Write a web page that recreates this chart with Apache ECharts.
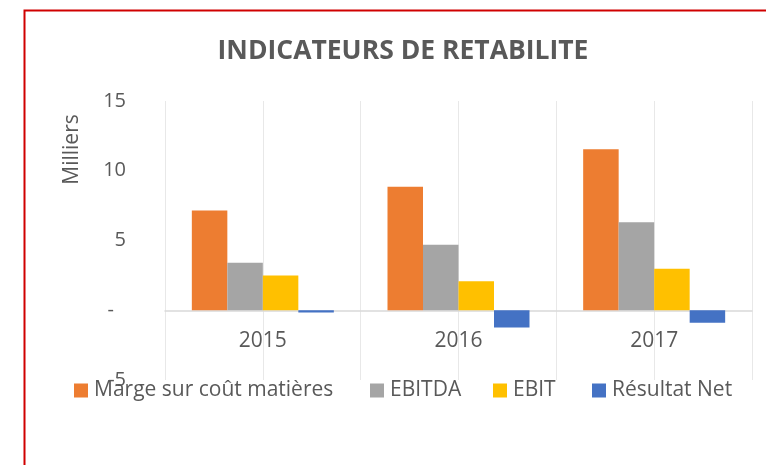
<!DOCTYPE html>
<html>
<head>
<meta charset="utf-8">
<script src="https://cdn.jsdelivr.net/npm/echarts@6/dist/echarts.min.js"></script>
<style>html,body{margin:0;padding:0;background:#fff}#c{width:766px;height:465px}</style>
</head>
<body>
<div id="c"></div>
<script>
const categories = ['2015', '2016', '2017'];
const seriesNames = ['Marge sur coût matières', 'EBITDA', 'EBIT', 'Résultat Net'];
const marge = [7.15, 8.86, 11.55];
const ebitda = [3.4, 4.7, 6.3];
const ebit = [2.5, 2.08, 2.98];
const resultatNet = [-0.16, -1.24, -0.9];
const yTicks = [-5, 0, 5, 10, 15];
const titleText = 'INDICATEURS DE RETABILITE';
const yName = 'Milliers';

const colors = ['#ED7D31', '#A5A5A5', '#FFC000', '#4472C4'];
const txt = '#595959';
const font = 'Open Sans';
const values = [marge, ebitda, ebit, resultatNet];
const legendLefts = [74, 370, 493, 592];

const chart = echarts.init(document.getElementById('c'), null, {renderer: 'canvas'});
chart.setOption({
  animation: false,
  color: colors,
  title: {
    text: titleText,
    left: 398, top: 33, textAlign: 'center',
    textStyle: {fontFamily: font, fontWeight: 'bold', fontSize: 26.5, color: txt}
  },
  legend: seriesNames.map((n, i) => ({
    data: [n], left: legendLefts[i], top: 380, itemWidth: 14, itemHeight: 14, itemGap: 0,
    icon: 'rect', padding: 0,
    textStyle: {fontFamily: font, fontSize: 21, color: txt, padding: [0, 0, 0, 1]}
  })),
  grid: {left: 165, right: 14, top: 101, bottom: 85},
  xAxis: [{
    type: 'category', data: categories, position: 'bottom',
    axisLine: {onZero: true, lineStyle: {color: '#d9d9d9', width: 1.5}},
    axisTick: {show: false},
    axisLabel: {fontFamily: font, fontSize: 21, color: txt, margin: -49},
    splitLine: {show: false}
  }, {
    type: 'category', data: ['a', 'b', 'c', 'd', 'e', 'f'], position: 'top',
    axisLine: {show: false, onZero: false}, axisTick: {show: false}, axisLabel: {show: false},
    splitLine: {show: true, interval: 0, lineStyle: {color: '#e8e8e8', width: 1}}
  }],
  yAxis: {
    type: 'value', min: yTicks[0], max: yTicks[yTicks.length - 1], interval: 5,
    name: yName, nameLocation: 'middle', nameRotate: 90, nameGap: 82,
    nameTextStyle: {fontFamily: font, fontSize: 21, color: txt, padding: [0, 0, 0, 182]},
    axisLine: {show: false}, axisTick: {show: false}, splitLine: {show: false},
    axisLabel: {
      fontFamily: font, fontSize: 20, color: txt, margin: 39,
      formatter: v => v === 0 ? '{z|-}' : String(v),
      rich: {z: {fontFamily: font, fontSize: 20, color: txt, padding: [0, 12, 0, 0]}}
    }
  },
  series: seriesNames.map((n, i) => ({
    name: n, type: 'bar', data: values[i], barWidth: 35.5, barGap: '0%',
    xAxisIndex: 0, itemStyle: {color: colors[i]}
  })),
  graphic: [{
    type: 'rect', left: 22, top: 8, z: 100, silent: true,
    shape: {x: 0, y: 0, width: 800, height: 500},
    style: {fill: null, stroke: '#D00000', lineWidth: 2}
  }]
});
</script>
</body>
</html>
